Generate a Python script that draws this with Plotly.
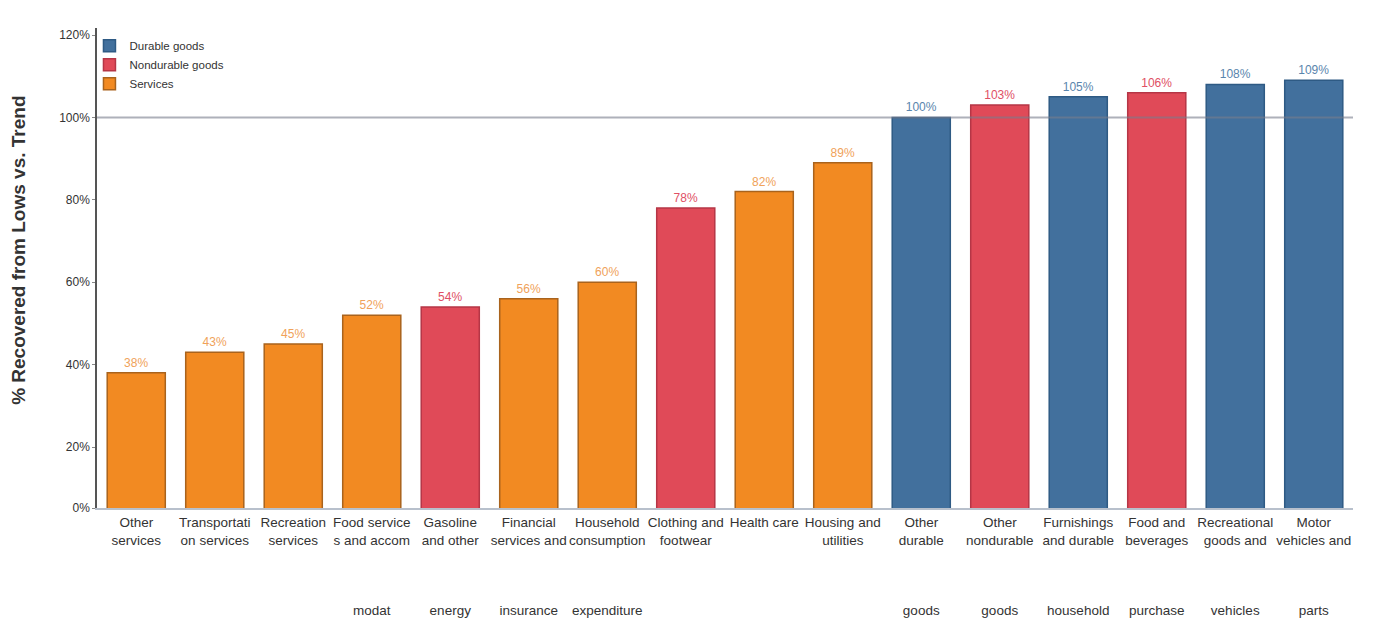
import plotly.graph_objects as go

categories = [
    "Other<br>services", "Transportati<br>on services", "Recreation<br>services",
    "Food service<br>s and accom<br> <br> <br> <br>modat", "Gasoline<br>and other<br> <br> <br> <br>energy",
    "Financial<br>services and<br> <br> <br> <br>insurance", "Household<br>consumption<br> <br> <br> <br>expenditure",
    "Clothing and<br>footwear", "Health care", "Housing and<br>utilities",
    "Other<br>durable<br> <br> <br> <br>goods", "Other<br>nondurable<br> <br> <br> <br>goods",
    "Furnishings<br>and durable<br> <br> <br> <br>household", "Food and<br>beverages<br> <br> <br> <br>purchase",
    "Recreational<br>goods and<br> <br> <br> <br>vehicles", "Motor<br>vehicles and<br> <br> <br> <br>parts",
]
values = [38, 43, 45, 52, 54, 56, 60, 78, 82, 89, 100, 103, 105, 106, 108, 109]
groups = ["Services", "Services", "Services", "Services", "Nondurable goods",
          "Services", "Services", "Nondurable goods", "Services", "Services",
          "Durable goods", "Nondurable goods", "Durable goods", "Nondurable goods",
          "Durable goods", "Durable goods"]
value_labels = ["38%", "43%", "45%", "52%", "54%", "56%", "60%", "78%", "82%", "89%",
                "100%", "103%", "105%", "106%", "108%", "109%"]
# the reference axis baseline sits slightly above zero; its bottom tick is labelled "0%"
y_min, y_max = 5.2, 121.7
y_ticks = [y_min, 20, 40, 60, 80, 100, 120]
y_tick_labels = ["0%", "20%", "40%", "60%", "80%", "100%", "120%"]
group_order = ["Durable goods", "Nondurable goods", "Services"]

styles = {
    "Durable goods": dict(fill="#42709D", edge="#2E5A84", text="#5A85AD"),
    "Nondurable goods": dict(fill="#E04A58", edge="#B53646", text="#E05065"),
    "Services": dict(fill="#F28A22", edge="#A9631D", text="#F0A25A"),
}

FONT = "Liberation Sans, Arial, sans-serif"

fig = go.Figure()
for g in group_order:
    idx = [i for i, gg in enumerate(groups) if gg == g]
    st = styles[g]
    fig.add_trace(go.Bar(
        x=[categories[i] for i in idx],
        y=[values[i] for i in idx],
        text=[value_labels[i] for i in idx],
        textposition="outside",
        textfont=dict(family=FONT, size=12, color=st["text"]),
        cliponaxis=False,
        name=g,
        marker=dict(color=st["fill"], line=dict(color=st["edge"], width=1.5)),
    ))

fig.add_shape(type="line", xref="paper", yref="y", x0=0, x1=1, y0=100, y1=100,
              line=dict(color="rgba(120,125,140,0.6)", width=2), layer="above")

fig.add_annotation(text="<b>% Recovered from Lows vs. Trend</b>", textangle=-90,
                   xref="paper", yref="paper", x=-0.063, y=0.5375,
                   xanchor="center", yanchor="middle", showarrow=False,
                   font=dict(family=FONT, size=19, color="#333333"))

fig.update_layout(
    width=1376, height=618,
    paper_bgcolor="white", plot_bgcolor="white",
    margin=dict(l=97, r=23, t=28, b=110, autoexpand=False),
    barmode="overlay", bargap=0.26,
    font=dict(family=FONT, size=12, color="#333333"),
    legend=dict(x=-0.006, y=0.993, xanchor="left", yanchor="top",
                bgcolor="rgba(0,0,0,0)", font=dict(family=FONT, size=11.5, color="#333333"),
                traceorder="normal", itemwidth=30, tracegroupgap=0),
    showlegend=True,
)
fig.update_xaxes(
    categoryorder="array", categoryarray=categories, automargin=False,
    showline=True, linecolor="#B8C0CC", linewidth=1.5,
    tickfont=dict(family=FONT, size=13.5, color="#333333"),
    tickangle=0, ticks="", showgrid=False, ticklabelstandoff=1,
)
fig.update_yaxes(
    range=[y_min, y_max], tickvals=y_ticks, ticktext=y_tick_labels, automargin=False,
    showline=True, linecolor="#555555", linewidth=1.5,
    ticks="outside", ticklen=3, tickcolor="#888888",
    tickfont=dict(family=FONT, size=12, color="#333333"),
    showgrid=False, zeroline=False,
)

fig.write_html("out.html")
